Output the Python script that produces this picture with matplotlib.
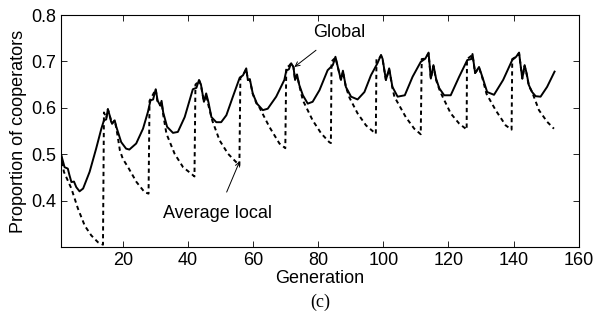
import matplotlib
matplotlib.use("Agg")
import matplotlib.pyplot as plt

# Global (solid) series: generation, proportion
global_gen = [1.0, 1.6, 2.1, 3.1, 3.6, 4.2, 5.0, 5.7, 6.7, 7.8, 9.8, 11.8, 13.4, 14.2, 14.9,
              15.4, 15.9, 16.4, 16.7, 17.5, 18.0, 19.5, 21.0, 22.0, 24.1, 26.2, 27.7, 28.5,
              29.3, 30.1, 30.7, 31.5, 31.9, 32.4, 33.6, 35.4, 36.9, 39.0, 41.5, 42.6, 43.4,
              44.0, 44.9, 45.6, 46.3, 47.2, 48.7, 50.2, 51.8, 53.8, 55.9, 56.9, 57.9, 58.4,
              59.0, 59.9, 61.2, 63.0, 64.5, 67.1, 69.6, 70.2, 71.0, 71.7, 72.4, 72.9, 73.5,
              74.2, 75.3, 76.8, 78.3, 80.4, 82.9, 84.5, 85.3, 86.3, 87.0, 87.6, 88.5, 90.1,
              92.1, 94.2, 96.2, 98.2, 99.3, 99.8, 100.8, 101.8, 102.8, 104.4, 106.6, 109.0,
              111.5, 112.9, 113.9, 114.6, 115.4, 116.2, 117.2, 118.7, 120.7, 123.3, 125.8,
              127.0, 127.4, 128.2, 129.4, 130.4, 131.9, 134.0, 136.8, 139.6, 140.8, 141.7,
              142.2, 142.7, 143.4, 144.0, 144.7, 145.7, 146.8, 148.3, 150.3, 152.6]
global_val = [0.500, 0.485, 0.472, 0.469, 0.455, 0.440, 0.441, 0.429, 0.420, 0.426, 0.462, 0.512,
              0.555, 0.573, 0.575, 0.597, 0.585, 0.570, 0.566, 0.573, 0.559, 0.526, 0.512, 0.510,
              0.523, 0.555, 0.591, 0.616, 0.618, 0.640, 0.615, 0.605, 0.615, 0.590, 0.559, 0.546,
              0.548, 0.580, 0.640, 0.643, 0.660, 0.650, 0.613, 0.631, 0.612, 0.580, 0.569, 0.569,
              0.584, 0.624, 0.665, 0.670, 0.685, 0.660, 0.662, 0.631, 0.609, 0.595, 0.598, 0.624,
              0.660, 0.680, 0.683, 0.696, 0.688, 0.660, 0.672, 0.649, 0.627, 0.609, 0.613, 0.638,
              0.681, 0.692, 0.710, 0.680, 0.660, 0.680, 0.645, 0.624, 0.618, 0.634, 0.670, 0.696,
              0.714, 0.705, 0.660, 0.685, 0.645, 0.624, 0.627, 0.667, 0.699, 0.706, 0.719, 0.663,
              0.692, 0.663, 0.642, 0.627, 0.627, 0.667, 0.703, 0.705, 0.716, 0.675, 0.688, 0.667,
              0.634, 0.628, 0.660, 0.703, 0.710, 0.719, 0.690, 0.663, 0.692, 0.675, 0.649, 0.634,
              0.625, 0.624, 0.645, 0.678]

# Average local (dashed) series
local_gen = [1.0, 1.9, 4.2, 6.2, 8.3, 10.3, 12.4, 13.9, 14.2, 14.9, 15.4, 15.9, 16.7, 17.5, 18.0,
             18.5, 19.1, 20.0, 21.6, 24.2, 26.7, 27.9, 28.2, 29.0, 30.1, 30.6, 31.5, 31.9, 32.4,
             33.4, 35.9, 38.5, 41.0, 42.0, 42.3, 43.0, 43.4, 44.0, 44.9, 45.6, 46.3, 47.5, 49.7,
             52.3, 54.8, 55.8, 56.1, 56.9, 57.9, 58.4, 59.0, 59.9, 61.0, 62.0, 65.0, 68.1, 69.9,
             70.2, 71.0, 71.7, 72.4, 72.9, 73.5, 74.2, 75.3, 78.3, 80.9, 83.4, 83.9, 84.1, 85.3,
             86.3, 87.0, 87.6, 88.5, 89.6, 92.1, 94.7, 97.7, 97.9, 98.5, 99.3, 99.8, 100.8, 101.8,
             102.8, 103.4, 106.9, 109.5, 111.5, 111.8, 112.9, 113.9, 114.6, 115.4, 116.2, 117.2,
             118.0, 120.7, 123.3, 125.3, 125.6, 125.7, 127.4, 128.2, 129.4, 130.4, 131.7, 134.5,
             137.6, 139.4, 139.6, 140.8, 141.7, 142.2, 142.7, 143.4, 144.0, 144.7, 145.7, 147.8,
             150.3, 152.4]
local_val = [0.500, 0.462, 0.426, 0.383, 0.346, 0.325, 0.310, 0.305, 0.590, 0.578, 0.597, 0.585,
             0.566, 0.573, 0.556, 0.535, 0.508, 0.490, 0.472, 0.440, 0.418, 0.415, 0.615, 0.625,
             0.640, 0.615, 0.605, 0.612, 0.585, 0.544, 0.501, 0.472, 0.458, 0.452, 0.650, 0.655,
             0.660, 0.648, 0.613, 0.628, 0.605, 0.572, 0.530, 0.501, 0.483, 0.476, 0.665, 0.670,
             0.683, 0.660, 0.660, 0.630, 0.610, 0.600, 0.559, 0.523, 0.513, 0.688, 0.690, 0.696,
             0.688, 0.660, 0.670, 0.648, 0.616, 0.573, 0.545, 0.526, 0.524, 0.700, 0.708, 0.680,
             0.660, 0.678, 0.645, 0.622, 0.588, 0.562, 0.544, 0.705, 0.705, 0.712, 0.703, 0.660,
             0.683, 0.643, 0.624, 0.580, 0.555, 0.543, 0.705, 0.706, 0.717, 0.663, 0.690, 0.660,
             0.640, 0.627, 0.588, 0.566, 0.555, 0.553, 0.705, 0.714, 0.675, 0.686, 0.665, 0.630,
             0.595, 0.562, 0.553, 0.705, 0.710, 0.717, 0.690, 0.663, 0.690, 0.673, 0.647, 0.634,
             0.595, 0.570, 0.555]

x_ticks = [20, 40, 60, 80, 100, 120, 140, 160]
y_ticks = [0.4, 0.5, 0.6, 0.7, 0.8]
y_tick_labels = ["0.4", "0.5", "0.6", "0.7", "0.8"]

plt.rcParams['font.family'] = ['Liberation Sans', 'DejaVu Sans']

fig = plt.figure(figsize=(5.96, 3.22), dpi=100)
ax = fig.add_axes([0.1023, 0.2329, 0.8686, 0.7205])

ax.plot(global_gen, global_val, color='black', lw=1.4, linestyle='-')
ax.plot(local_gen, local_val, color='black', lw=1.4, linestyle=(0, (2.2, 1.8)))

ax.set_xlim(1, 160)
ax.set_ylim(0.3, 0.8)
ax.set_xticks(x_ticks)
ax.set_yticks(y_ticks)
ax.set_yticklabels(y_tick_labels)
ax.tick_params(direction='in', length=4, width=0.6, top=True, right=True,
               labelsize=13, pad=3.5)
for s in ax.spines.values():
    s.set_linewidth(0.8)

ax.set_xlabel("Generation", fontsize=13, labelpad=0.5)
ax.set_ylabel("Proportion of cooperators", fontsize=13, labelpad=3)

ax.annotate("Global", xy=(72.7, 0.688), xytext=(86.5, 0.763),
            fontsize=13, ha='center', va='center',
            arrowprops=dict(arrowstyle='->', lw=0.7, color='black',
                            shrinkA=8, shrinkB=0, mutation_scale=8))
ax.annotate("Average local", xy=(55.9, 0.485), xytext=(49.1, 0.372),
            fontsize=13, ha='center', va='center',
            arrowprops=dict(arrowstyle='->', lw=0.7, color='black',
                            shrinkA=8, shrinkB=0, mutation_scale=8))

fig.text(0.537, 0.060, "(c)", fontsize=13, ha='center', va='center',
         family=['Liberation Serif', 'DejaVu Serif'])

fig.savefig("out.png", dpi=100)
